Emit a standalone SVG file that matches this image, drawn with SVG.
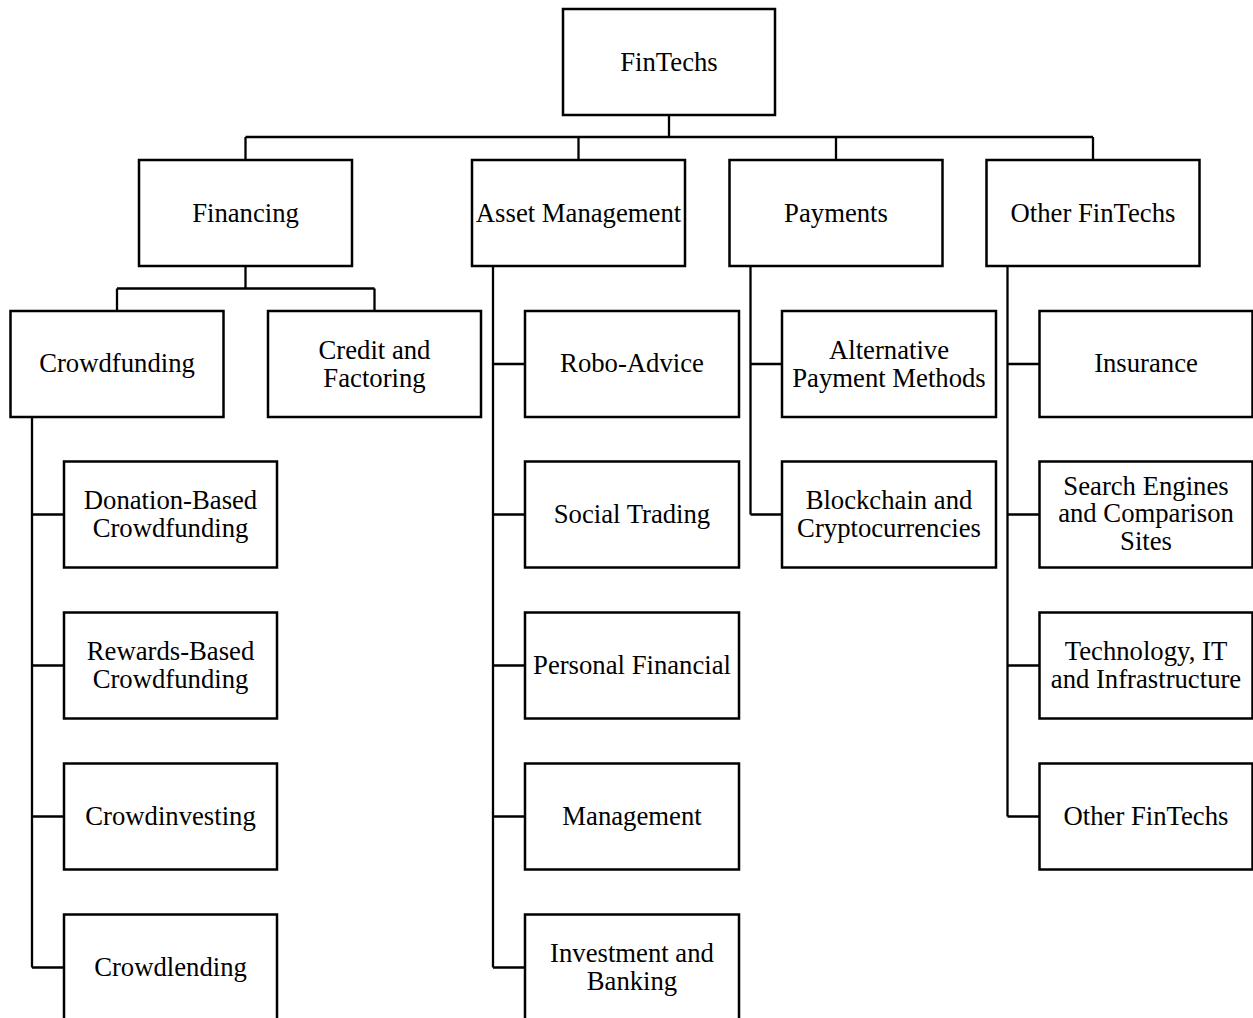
<svg xmlns="http://www.w3.org/2000/svg" width="1253" height="1018" viewBox="0 0 1253 1018">
<style>
.box{fill:#fff;stroke:#000;stroke-width:2.5}
.ln{fill:none;stroke:#000;stroke-width:2.3}
text{font-family:"Liberation Serif","Times New Roman",serif;font-size:26.7px;fill:#000;text-anchor:middle}
</style>
<rect width="1253" height="1018" fill="#fff"/>
<g id="connectors">
<path class="ln" d="M669 115V137M245.5 137H1093M245.5 137V160M578.5 137V160M836 137V160M1093 137V160"/>
<path class="ln" d="M245.5 266V288.5M117 288.5H374.5M117 288.5V311M374.5 288.5V311"/>
<path class="ln" d="M32 417V967.5M32 514.5H64M32 665.5H64M32 816.5H64M32 967.5H64"/>
<path class="ln" d="M493 266V967.5M493 364H525M493 514.5H525M493 665.5H525M493 816.5H525M493 967.5H525"/>
<path class="ln" d="M750.5 266V514.5M750.5 364H782M750.5 514.5H782"/>
<path class="ln" d="M1007.5 266V816.5M1007.5 364H1039.5M1007.5 514.5H1039.5M1007.5 665.5H1039.5M1007.5 816.5H1039.5"/>
</g>
<g id="fintechs"><rect class="box" x="563" y="9" width="212" height="106"/><text x="669" y="71">FinTechs</text></g>
<g id="financing"><rect class="box" x="139" y="160" width="213" height="106"/><text x="245.5" y="221.5">Financing</text></g>
<g id="asset-management"><rect class="box" x="472" y="160" width="213" height="106"/><text x="578.5" y="221.5">Asset Management</text></g>
<g id="payments"><rect class="box" x="729.5" y="160" width="213" height="106"/><text x="836" y="221.5">Payments</text></g>
<g id="other-fintechs"><rect class="box" x="986.5" y="160" width="213" height="106"/><text x="1093" y="221.5">Other FinTechs</text></g>
<g id="crowdfunding"><rect class="box" x="10.5" y="311" width="213" height="106"/><text x="117" y="372">Crowdfunding</text></g>
<g id="credit-factoring"><rect class="box" x="268" y="311" width="213" height="106"/><text x="374.5" y="358.5">Credit and</text><text x="374.5" y="386.5">Factoring</text></g>
<g id="donation"><rect class="box" x="64" y="461.5" width="213" height="106"/><text x="170.5" y="508.5">Donation-Based</text><text x="170.5" y="536.5">Crowdfunding</text></g>
<g id="rewards"><rect class="box" x="64" y="612.5" width="213" height="106"/><text x="170.5" y="659.5">Rewards-Based</text><text x="170.5" y="687.5">Crowdfunding</text></g>
<g id="crowdinvesting"><rect class="box" x="64" y="763.5" width="213" height="106"/><text x="170.5" y="824.5">Crowdinvesting</text></g>
<g id="crowdlending"><rect class="box" x="64" y="914.5" width="213" height="106"/><text x="170.5" y="975.5">Crowdlending</text></g>
<g id="robo-advice"><rect class="box" x="525" y="311" width="214" height="106"/><text x="632" y="372">Robo-Advice</text></g>
<g id="social-trading"><rect class="box" x="525" y="461.5" width="214" height="106"/><text x="632" y="522.5">Social Trading</text></g>
<g id="personal-financial"><rect class="box" x="525" y="612.5" width="214" height="106"/><text x="632" y="673.5">Personal Financial</text></g>
<g id="management"><rect class="box" x="525" y="763.5" width="214" height="106"/><text x="632" y="824.5">Management</text></g>
<g id="investment-banking"><rect class="box" x="525" y="914.5" width="214" height="106"/><text x="632" y="961.5">Investment and</text><text x="632" y="989.5">Banking</text></g>
<g id="alt-payment"><rect class="box" x="782" y="311" width="214" height="106"/><text x="889" y="358.5">Alternative</text><text x="889" y="386.5">Payment Methods</text></g>
<g id="blockchain"><rect class="box" x="782" y="461.5" width="214" height="106"/><text x="889" y="508.5">Blockchain and</text><text x="889" y="536.5">Cryptocurrencies</text></g>
<g id="insurance"><rect class="box" x="1039.5" y="311" width="213" height="106"/><text x="1146" y="372">Insurance</text></g>
<g id="search-engines"><rect class="box" x="1039.5" y="461.5" width="213" height="106"/><text x="1146" y="494.5">Search Engines</text><text x="1146" y="522">and Comparison</text><text x="1146" y="549.5">Sites</text></g>
<g id="technology"><rect class="box" x="1039.5" y="612.5" width="213" height="106"/><text x="1146" y="659.5">Technology, IT</text><text x="1146" y="687.5">and Infrastructure</text></g>
<g id="other-fintechs-2"><rect class="box" x="1039.5" y="763.5" width="213" height="106"/><text x="1146" y="824.5">Other FinTechs</text></g>
</svg>
